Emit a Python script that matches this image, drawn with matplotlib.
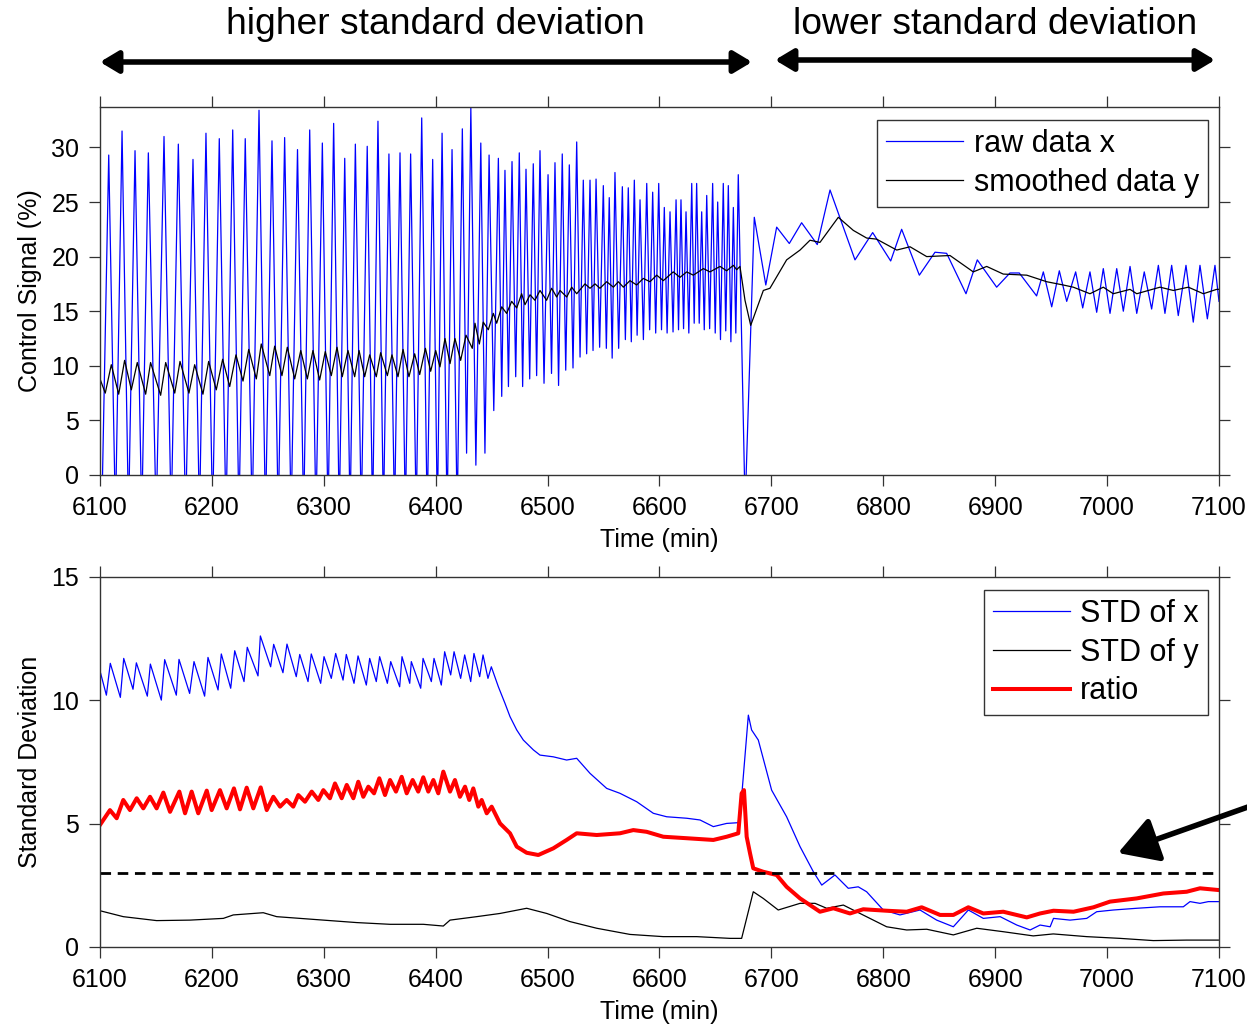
import numpy as np
import matplotlib
matplotlib.use("Agg")
import matplotlib.pyplot as plt

plt.rcParams['font.family'] = ['Liberation Sans', 'DejaVu Sans']

# ---------------- data ----------------
# raw data x: peaks and troughs of the fast oscillation (6100-6671 min)
raw_peak_t = [6107.8, 6119.7, 6131.3, 6143.2, 6157.2, 6170.0, 6183.1, 6194.7, 6206.6, 6218.6,
              6229.8, 6242.1, 6253.7, 6265.0, 6276.5, 6287.4, 6298.7, 6308.8, 6318.7, 6328.2,
              6338.8, 6348.4, 6358.2, 6368.1, 6377.6, 6387.5, 6397.3, 6405.7, 6414.6, 6423.8,
              6431.4, 6440.3, 6447.7, 6456.0, 6461.9, 6468.2, 6474.7, 6480.7, 6487.2, 6493.2,
              6500.4, 6506.6, 6513.1, 6519.4, 6526.0, 6531.9, 6537.9, 6543.3, 6549.8, 6555.1,
              6560.2, 6566.8, 6572.1, 6577.5, 6582.6, 6588.6, 6593.9, 6599.3, 6604.3, 6609.4,
              6614.8, 6619.2, 6623.7, 6628.8, 6633.2, 6637.7, 6642.2, 6647.5, 6652.0, 6657.0,
              6661.5, 6666.0, 6670.4]
raw_peak_v = [29.3, 31.5, 29.7, 29.5, 31.0, 30.3, 28.9, 31.3, 30.8, 31.6,
              30.8, 33.4, 30.6, 30.9, 29.8, 31.6, 30.4, 32.2, 29.0, 30.3,
              30.1, 32.4, 29.4, 29.5, 29.4, 32.7, 28.9, 31.3, 29.8, 31.7,
              33.6, 30.4, 29.3, 29.0, 27.9, 28.7, 29.5, 28.0, 28.5, 29.7,
              27.5, 28.6, 29.4, 28.4, 30.5, 27.0, 27.0, 27.1, 26.5, 25.4,
              27.7, 26.4, 26.3, 27.0, 25.2, 26.7, 25.9, 26.7, 24.5, 24.1,
              25.2, 25.2, 24.1, 26.7, 26.7, 24.1, 25.6, 26.7, 25.0, 26.7,
              26.5, 24.5, 27.5]
raw_trough_t = [6101.5, 6113.8, 6125.5, 6137.3, 6150.2, 6163.6, 6176.5, 6188.9, 6200.6, 6212.6,
                6224.2, 6236.0, 6247.9, 6259.3, 6270.8, 6282.0, 6293.0, 6303.8, 6313.8, 6323.5,
                6333.5, 6343.6, 6353.3, 6363.2, 6372.9, 6382.6, 6392.4, 6401.5, 6410.2, 6419.2,
                6427.6, 6435.9, 6444.0, 6451.9, 6459.0, 6465.0, 6471.5, 6477.7, 6484.0, 6490.2,
                6496.8, 6503.5, 6509.8, 6516.2, 6522.7, 6529.0, 6534.9, 6540.6, 6546.5, 6552.5,
                6557.7, 6563.5, 6569.5, 6574.8, 6580.0, 6585.6, 6591.2, 6596.6, 6601.8, 6606.8,
                6612.1, 6617.0, 6621.5, 6626.2, 6631.0, 6635.5, 6640.0, 6644.8, 6649.8, 6654.5,
                6659.2, 6663.8, 6668.2]
raw_trough_v = [-4, -4, -4, -4, -4, -4, -4, -4, -4, -4,
                -4, -4, -4, -4, -4, -4, -4, -4, -4, -4,
                -4, -4, -4, -4, -4, -4, -4, -4, -4, -4,
                2.0, 0.9, 2.0, 5.9, 7.2, 8.1, 9.0, 8.1, 8.8, 9.1,
                8.4, 9.3, 8.2, 9.6, 9.8, 10.8, 11.1, 11.4, 11.7, 11.6,
                10.7, 11.6, 12.4, 12.2, 12.8, 12.4, 13.3, 13.0, 13.3, 13.0,
                13.1, 13.3, 13.4, 13.0, 13.9, 13.9, 13.3, 13.4, 13.0, 12.4,
                13.2, 12.2, 13.0]
# raw data x after the controller change (slower, smaller swings)
raw_tail_t = [6676.5, 6684.7, 6695.0, 6704.7, 6716.0, 6727.0, 6741.0, 6752.4, 6774.7, 6790.5,
              6806.6, 6816.4, 6832.2, 6846.2, 6856.6, 6873.9, 6884.0, 6901.3, 6913.2, 6921.5,
              6937.0, 6943.0, 6950.5, 6957.3, 6963.9, 6971.9, 6978.2, 6984.7, 6990.7, 6996.6,
              7002.6, 7008.6, 7014.5, 7020.5, 7026.5, 7033.2, 7039.8, 7045.8, 7051.7, 7057.7,
              7063.6, 7070.5, 7077.0, 7083.0, 7089.6, 7096.4, 7100.0]
raw_tail_v = [-3.0, 23.6, 17.4, 22.7, 21.2, 23.1, 21.1, 26.1, 19.7, 22.2,
              19.6, 22.5, 18.3, 20.4, 20.3, 16.6, 19.7, 17.2, 18.5, 18.5,
              16.4, 18.6, 15.4, 18.7, 15.9, 18.6, 15.3, 18.6, 14.9, 18.9,
              14.8, 18.9, 15.0, 19.1, 14.8, 18.6, 15.2, 19.2, 14.8, 19.2,
              14.6, 19.2, 14.0, 19.2, 14.3, 19.2, 15.9]

# smoothed data y
smooth_t = [6100.0, 6104.7, 6110.1, 6116.7, 6122.0, 6128.0, 6133.3, 6140.8, 6145.2, 6154.2,
            6158.7, 6166.8, 6171.5, 6179.5, 6184.6, 6192.0, 6197.1, 6203.9, 6209.6, 6215.9,
            6221.5, 6227.8, 6232.9, 6239.7, 6244.1, 6251.7, 6256.1, 6262.6, 6267.4, 6274.0,
            6279.4, 6285.3, 6290.3, 6296.3, 6301.3, 6306.7, 6311.8, 6316.5, 6321.6, 6327.6,
            6331.5, 6336.5, 6341.0, 6346.9, 6350.8, 6356.8, 6360.9, 6366.3, 6370.8, 6376.1,
            6381.2, 6385.7, 6390.8, 6395.5, 6400.0, 6403.8, 6408.3, 6412.8, 6417.2, 6422.3,
            6427.1, 6432.7, 6435.1, 6439.0, 6442.5, 6447.0, 6451.5, 6454.5, 6459.0, 6463.4,
            6467.9, 6472.4, 6476.8, 6479.8, 6484.3, 6488.7, 6493.2, 6499.1, 6503.6, 6508.1,
            6511.1, 6517.1, 6521.5, 6526.0, 6533.4, 6537.9, 6542.4, 6546.8, 6552.8, 6558.8,
            6563.2, 6567.7, 6573.6, 6579.6, 6585.5, 6591.5, 6597.5, 6603.4, 6612.3, 6618.3,
            6624.3, 6630.2, 6639.2, 6645.1, 6654.1, 6660.0, 6666.0, 6669.0, 6671.9, 6676.4,
            6681.5, 6692.8, 6698.7, 6713.6, 6725.6, 6734.5, 6743.4, 6759.8, 6773.2, 6785.1,
            6794.0, 6812.0, 6823.9, 6838.8, 6859.6, 6880.4, 6892.4, 6907.2, 6928.2, 6946.0,
            6960.8, 6969.8, 6984.7, 6996.6, 7005.5, 7020.5, 7026.5, 7047.3, 7059.2, 7072.6,
            7086.0, 7097.9, 7100.0]
smooth_v = [8.8, 7.5, 10.1, 7.4, 10.5, 7.8, 10.3, 7.4, 10.3, 7.3,
            10.3, 7.5, 10.4, 7.5, 10.1, 7.4, 10.4, 7.8, 10.6, 8.1,
            11.0, 8.6, 11.5, 8.8, 12.0, 9.1, 11.8, 9.1, 11.7, 8.8,
            11.4, 8.8, 11.4, 8.7, 11.3, 9.1, 11.7, 9.0, 11.4, 9.0,
            11.4, 9.0, 11.0, 9.0, 11.2, 9.1, 11.0, 9.0, 11.5, 9.0,
            11.1, 9.2, 11.6, 9.5, 11.4, 9.9, 12.5, 10.2, 12.5, 10.5,
            12.8, 11.6, 13.9, 12.0, 14.0, 13.3, 14.8, 13.9, 15.4, 14.8,
            15.9, 15.3, 16.6, 15.6, 16.5, 16.0, 16.9, 16.0, 17.1, 16.3,
            16.9, 16.3, 17.2, 16.6, 17.5, 17.1, 17.5, 17.1, 17.7, 17.2,
            17.7, 17.2, 17.8, 17.4, 18.0, 17.7, 18.3, 17.8, 18.6, 18.1,
            18.6, 18.3, 18.9, 18.6, 19.1, 18.7, 19.2, 18.8, 19.1, 16.0,
            13.7, 16.9, 17.1, 19.7, 20.6, 21.5, 21.3, 23.6, 22.4, 21.7,
            21.6, 20.6, 20.9, 20.0, 20.1, 18.6, 19.1, 18.4, 18.3, 17.7,
            17.4, 17.2, 16.6, 17.2, 16.6, 17.0, 16.6, 17.2, 16.9, 17.2,
            16.6, 17.0, 17.0]

# STD of x
stdx_t = [6100.6, 6105.7, 6109.2, 6118.2, 6121.2, 6129.5, 6132.5, 6142.3, 6145.0, 6154.8,
          6157.8, 6168.2, 6170.6, 6180.1, 6184.0, 6193.5, 6196.5, 6205.5, 6208.4, 6216.8,
          6220.4, 6228.7, 6231.6, 6241.2, 6243.3, 6252.5, 6255.2, 6263.5, 6267.1, 6275.4,
          6278.5, 6285.9, 6288.8, 6297.2, 6300.2, 6306.7, 6310.6, 6317.2, 6320.1, 6327.0,
          6330.6, 6338.0, 6341.0, 6346.9, 6349.9, 6356.8, 6359.8, 6367.8, 6369.9, 6376.8,
          6378.2, 6386.6, 6388.7, 6396.1, 6398.5, 6405.0, 6408.0, 6413.4, 6416.4, 6422.3,
          6425.9, 6431.3, 6434.2, 6439.3, 6442.3, 6446.7, 6449.7, 6456.0, 6461.9, 6466.4,
          6472.4, 6478.3, 6487.3, 6493.2, 6505.1, 6517.0, 6526.0, 6537.9, 6552.8, 6564.7,
          6579.6, 6594.5, 6606.4, 6624.3, 6636.2, 6648.1, 6660.0, 6670.4, 6673.4, 6679.4,
          6682.3, 6688.3, 6700.2, 6713.6, 6725.6, 6737.5, 6745.0, 6756.8, 6768.7, 6777.6,
          6785.1, 6800.0, 6814.9, 6832.8, 6847.7, 6862.6, 6876.0, 6889.4, 6904.4, 6919.3,
          6931.2, 6940.1, 6949.1, 6952.1, 6966.9, 6981.8, 6990.7, 7005.6, 7026.5, 7047.3,
          7068.1, 7074.1, 7083.0, 7090.5, 7099.4]
stdx_v = [11.09, 10.21, 11.50, 10.12, 11.70, 10.45, 11.52, 10.17, 11.47, 10.01,
          11.65, 10.21, 11.66, 10.28, 11.57, 10.17, 11.74, 10.42, 11.88, 10.49,
          12.01, 10.76, 12.15, 10.99, 12.61, 11.36, 12.27, 11.12, 12.28, 10.96,
          11.86, 10.76, 11.88, 10.69, 11.77, 10.89, 11.90, 10.82, 11.86, 10.69,
          11.80, 10.62, 11.70, 10.76, 11.77, 10.69, 11.57, 10.55, 11.77, 10.69,
          11.57, 10.49, 11.70, 10.76, 11.70, 10.62, 11.97, 11.03, 11.97, 10.89,
          11.84, 10.76, 11.90, 10.96, 11.84, 10.89, 11.36, 10.55, 9.88, 9.34,
          8.80, 8.39, 7.99, 7.78, 7.71, 7.58, 7.65, 7.04, 6.43, 6.23,
          5.89, 5.42, 5.28, 5.22, 5.15, 4.88, 5.01, 5.04, 6.09, 9.40,
          8.80, 8.39, 6.36, 5.28, 4.07, 3.05, 2.51, 2.92, 2.38, 2.44,
          2.24, 1.50, 1.30, 1.50, 1.09, 0.82, 1.50, 1.16, 1.23, 0.89,
          0.69, 0.89, 0.82, 1.16, 1.09, 1.16, 1.43, 1.50, 1.57, 1.63,
          1.63, 1.84, 1.77, 1.84, 1.84]

# STD of y
stdy_t = [6100.0, 6120.8, 6150.6, 6180.4, 6210.2, 6219.1, 6237.0, 6245.9, 6257.9, 6299.6,
          6329.4, 6359.2, 6388.9, 6406.8, 6412.8, 6436.6, 6457.5, 6481.3, 6499.2, 6520.0,
          6543.9, 6573.6, 6603.4, 6633.2, 6663.0, 6673.4, 6683.8, 6692.7, 6706.1, 6725.6,
          6739.0, 6749.4, 6764.3, 6779.2, 6803.0, 6820.9, 6838.8, 6862.6, 6883.5, 6907.2,
          6934.0, 6951.9, 6981.8, 7011.5, 7041.3, 7071.1, 7099.4]
stdy_v = [1.47, 1.23, 1.07, 1.09, 1.16, 1.30, 1.36, 1.39, 1.23, 1.09,
          0.99, 0.92, 0.92, 0.85, 1.09, 1.23, 1.36, 1.57, 1.36, 1.03,
          0.76, 0.51, 0.42, 0.42, 0.35, 0.35, 2.24, 1.97, 1.50, 1.77,
          1.77, 1.57, 1.70, 1.36, 0.82, 0.69, 0.72, 0.49, 0.76, 0.62,
          0.45, 0.53, 0.42, 0.35, 0.26, 0.28, 0.28]

# ratio STD(x)/STD(y)
ratio_t = [6100.0, 6108.9, 6114.9, 6120.8, 6126.8, 6132.8, 6138.7, 6144.7, 6150.6, 6156.6,
           6162.6, 6170.9, 6176.0, 6181.9, 6187.8, 6195.4, 6199.8, 6207.2, 6213.2, 6219.7,
           6225.1, 6231.1, 6237.0, 6243.6, 6249.0, 6254.9, 6260.9, 6266.8, 6272.7, 6277.2,
           6283.2, 6289.2, 6295.1, 6299.6, 6305.5, 6310.0, 6316.0, 6320.5, 6326.4, 6330.8,
           6335.3, 6339.8, 6344.9, 6349.6, 6354.7, 6359.2, 6364.5, 6369.6, 6374.1, 6379.4,
           6384.4, 6388.9, 6393.4, 6397.9, 6402.3, 6406.8, 6412.8, 6417.2, 6421.7, 6426.2,
           6430.0, 6433.6, 6438.1, 6441.1, 6445.6, 6450.0, 6457.5, 6466.4, 6472.4, 6481.3,
           6491.7, 6505.1, 6517.0, 6526.0, 6543.9, 6564.7, 6576.6, 6588.5, 6603.4, 6624.3,
           6648.1, 6660.0, 6670.4, 6673.4, 6675.5, 6677.9, 6680.9, 6683.8, 6692.7, 6704.7,
           6713.6, 6725.6, 6743.4, 6755.4, 6770.2, 6782.1, 6803.0, 6820.9, 6834.3, 6850.7,
           6862.6, 6876.0, 6889.4, 6907.2, 6928.2, 6940.1, 6952.1, 6970.0, 6987.8, 7002.6,
           7026.5, 7050.3, 7071.1, 7083.0, 7099.4]
ratio_v = [4.95, 5.55, 5.22, 5.96, 5.55, 6.03, 5.62, 6.09, 5.62, 6.26,
           5.48, 6.30, 5.42, 6.30, 5.42, 6.34, 5.55, 6.36, 5.62, 6.43,
           5.58, 6.46, 5.62, 6.47, 5.55, 6.09, 5.69, 5.96, 5.69, 6.16,
           5.89, 6.30, 5.96, 6.36, 6.03, 6.63, 6.03, 6.57, 6.03, 6.70,
           6.09, 6.50, 6.23, 6.84, 6.16, 6.77, 6.30, 6.90, 6.23, 6.77,
           6.30, 6.88, 6.30, 6.77, 6.23, 7.11, 6.30, 6.77, 6.09, 6.50,
           5.96, 6.43, 5.69, 5.96, 5.42, 5.69, 5.01, 4.61, 4.07, 3.82,
           3.73, 4.00, 4.34, 4.61, 4.54, 4.61, 4.74, 4.67, 4.47, 4.41,
           4.34, 4.47, 4.61, 6.23, 6.36, 4.47, 3.80, 3.19, 3.05, 2.92,
           2.44, 1.97, 1.43, 1.57, 1.36, 1.53, 1.47, 1.43, 1.61, 1.30,
           1.30, 1.61, 1.36, 1.43, 1.20, 1.36, 1.47, 1.43, 1.61, 1.84,
           1.97, 2.17, 2.24, 2.38, 2.31]

threshold = 3
x_ticks = [6100, 6200, 6300, 6400, 6500, 6600, 6700, 6800, 6900, 7000, 7100]

# ---------------- figure ----------------
W, H = 1247, 1028
fig = plt.figure(figsize=(W / 100, H / 100), dpi=100)
ax1 = fig.add_axes([100 / W, 1 - 475 / H, 1119 / W, 368 / H])
ax2 = fig.add_axes([100 / W, 1 - 947 / H, 1119 / W, 370 / H])

raw_t = np.concatenate([raw_peak_t, raw_trough_t, raw_tail_t])
raw_v = np.concatenate([raw_peak_v, raw_trough_v, raw_tail_v])
order = np.argsort(raw_t)
ax1.plot(raw_t[order], raw_v[order], color='#0000ff', lw=0.9, label='raw data x')
ax1.plot(smooth_t, smooth_v, color='black', lw=0.9, label='smoothed data y')

ax2.plot(stdx_t, stdx_v, color='#0000ff', lw=0.9, label='STD of x')
ax2.plot(stdy_t, stdy_v, color='black', lw=0.9, label='STD of y')
ax2.plot(ratio_t, ratio_v, color='#ff0000', lw=2.9, label='ratio')
ax2.axhline(threshold, color='black', lw=2.0, dashes=(3.8, 2.4))

gray = '#333333'
for ax in (ax1, ax2):
    ax.set_xlim(6100, 7100)
    ax.set_xticks(x_ticks)
    ax.tick_params(direction='out', length=8, width=0.9, color=gray,
                   top=True, right=True, labelsize=18, pad=7)
    for sp in ax.spines.values():
        sp.set_color(gray)
        sp.set_linewidth(1.0)
    ax.set_xlabel('Time (min)', fontsize=18)

ax1.xaxis.set_label_coords(0.5, -0.143)
ax2.xaxis.set_label_coords(0.5, -0.143)

ax1.set_ylim(0, 33.7)
ax1.set_yticks([0, 5, 10, 15, 20, 25, 30])
ax1.set_ylabel('Control Signal (%)', fontsize=18)
ax1.yaxis.set_label_coords(-0.052, 0.5)

ax2.set_ylim(0, 15)
ax2.set_yticks([0, 5, 10, 15])
ax2.set_ylabel('Standard Deviation', fontsize=18)
ax2.yaxis.set_label_coords(-0.052, 0.5)

leg_kw = dict(fontsize=22, frameon=True, fancybox=False, framealpha=1,
              edgecolor=gray, handlelength=2.5, handletextpad=0.35,
              borderpad=0.3, labelspacing=0.28, borderaxespad=0)
l1 = ax1.legend(loc='upper right', bbox_to_anchor=(1208 / W, 1 - 120 / H),
                bbox_transform=fig.transFigure, **leg_kw)
l2 = ax2.legend(loc='upper right', bbox_to_anchor=(1208 / W, 1 - 590 / H),
                bbox_transform=fig.transFigure, **leg_kw)
for l in (l1, l2):
    l.get_frame().set_linewidth(1.0)

# annotations above the top panel
fig.text(435 / W, 1 - 24 / H, 'higher standard deviation', fontsize=26.8,
         ha='center', va='center')
fig.text(995 / W, 1 - 24 / H, 'lower standard deviation', fontsize=26.8,
         ha='center', va='center')
dbl = dict(arrowstyle='<|-|>,head_length=0.5,head_width=0.3', lw=4,
           color='black', shrinkA=0, shrinkB=0, mutation_scale=22)
fig.add_artist(plt.Annotation('', xy=(752, H - 62), xytext=(100, H - 62),
                              xycoords='figure pixels', textcoords='figure pixels',
                              arrowprops=dbl))
fig.add_artist(plt.Annotation('', xy=(1215, H - 60), xytext=(775, H - 60),
                              xycoords='figure pixels', textcoords='figure pixels',
                              arrowprops=dbl))

# pointer to the threshold line
one = dict(arrowstyle='-|>,head_length=0.6,head_width=0.35', lw=4,
           color='black', shrinkA=0, shrinkB=0, mutation_scale=40)
fig.add_artist(plt.Annotation('', xy=(1118, H - 853), xytext=(1262, H - 802),
                              xycoords='figure pixels', textcoords='figure pixels',
                              arrowprops=one, annotation_clip=False))

fig.savefig('out.png', dpi=100)
